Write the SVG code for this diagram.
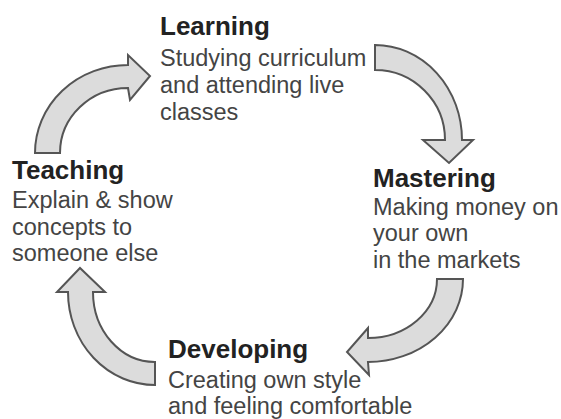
<svg xmlns="http://www.w3.org/2000/svg" width="561" height="419" viewBox="0 0 561 419">
<style>
.h{font-family:"Liberation Sans",Arial,sans-serif;font-weight:bold;font-size:26px;fill:#222}
.b{font-family:"Liberation Sans",Arial,sans-serif;font-size:23.5px;fill:#444}
.arr{fill:#dcdcdc;stroke:#555;stroke-width:2;stroke-linejoin:miter}
</style>
<rect width="561" height="419" fill="#fff"/>
<g id="connectors">
<path class="arr" d="M35,153 A93,88 0 0 1 128,65 L128,55 L150,76 L130,100 L128,88 A68,65 0 0 0 60,153 Z"/>
<path class="arr" d="M375,45 A87,95 0 0 1 462,140 L473,140 L449,163 L423,140 L445,140 A70,70 0 0 0 375,70 Z"/>
<path class="arr" d="M463,279 A95,83 0 0 1 368,362 L369,375 L347,352 L368,328 L368,338 A69,59 0 0 0 437,279 Z"/>
<path class="arr" d="M155,385 A87,93 0 0 1 68,292 L57,292 L80,268 L105,292 L93,292 A62,70 0 0 0 155,362 Z"/>
</g>
<g id="learning">
<text class="h" x="160" y="35">Learning</text>
<text class="b" x="160" y="66">Studying curriculum</text>
<text class="b" x="160" y="93">and attending live</text>
<text class="b" x="160" y="120">classes</text>
</g>
<g id="mastering">
<text class="h" x="373" y="187">Mastering</text>
<text class="b" x="373" y="215">Making money on</text>
<text class="b" x="373" y="241">your own</text>
<text class="b" x="373" y="268">in the markets</text>
</g>
<g id="developing">
<text class="h" x="168" y="358">Developing</text>
<text class="b" x="168" y="388">Creating own style</text>
<text class="b" x="168" y="414">and feeling comfortable</text>
</g>
<g id="teaching">
<text class="h" x="12" y="179">Teaching</text>
<text class="b" x="12" y="208">Explain &amp; show</text>
<text class="b" x="12" y="235">concepts to</text>
<text class="b" x="12" y="261">someone else</text>
</g>
</svg>
